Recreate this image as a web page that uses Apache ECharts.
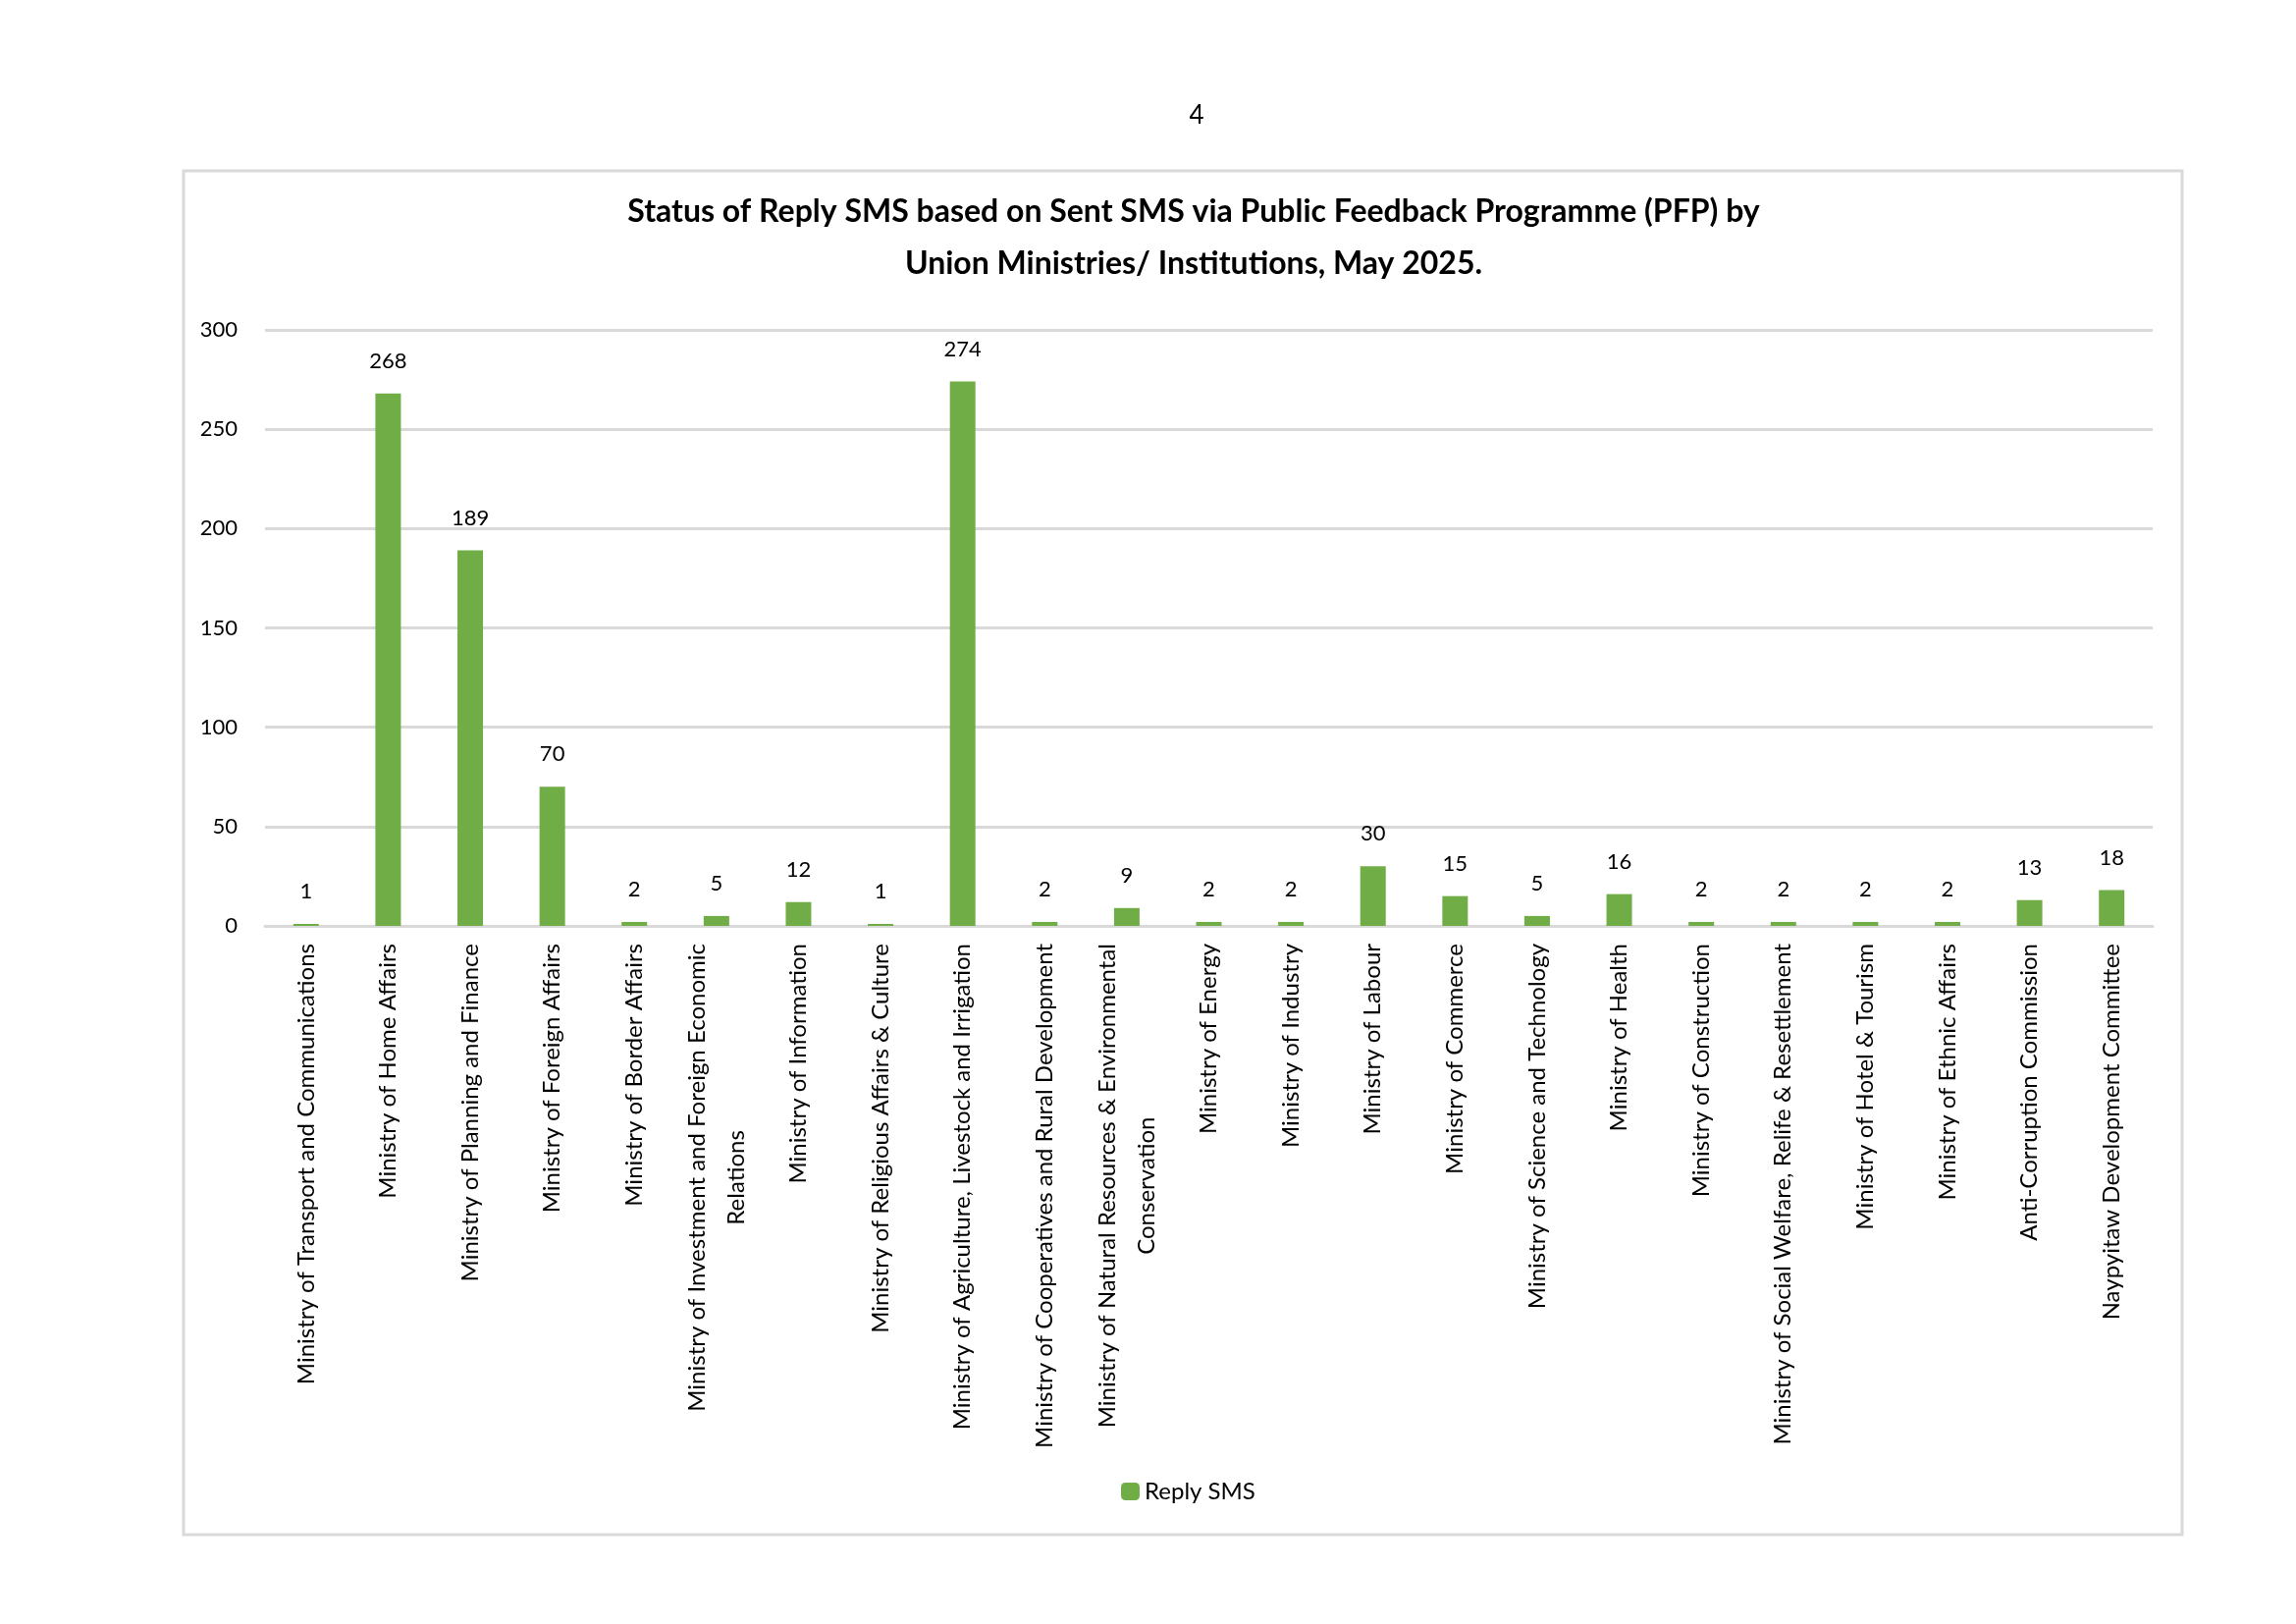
<!DOCTYPE html>
<html>
<head>
<meta charset="utf-8">
<script src="https://cdn.jsdelivr.net/npm/echarts@6/dist/echarts.min.js"></script>
<style>
  html, body { margin: 0; padding: 0; background: #fff; }
  #chart { width: 2339px; height: 1654px; }
</style>
</head>
<body>
<div id="chart"></div>
<script>
// categories (ministries / institutions)
var categories = [
  'Ministry of Transport and Communications',
  'Ministry of Home Affairs',
  'Ministry of Planning and Finance',
  'Ministry of Foreign Affairs',
  'Ministry of Border Affairs',
  'Ministry of Investment and Foreign Economic\nRelations',
  'Ministry of Information',
  'Ministry of Religious Affairs & Culture',
  'Ministry of Agriculture, Livestock and Irrigation',
  'Ministry of Cooperatives and Rural Development',
  'Ministry of Natural Resources & Environmental\nConservation',
  'Ministry of Energy',
  'Ministry of Industry',
  'Ministry of Labour',
  'Ministry of Commerce',
  'Ministry of Science and Technology',
  'Ministry of Health',
  'Ministry of Construction',
  'Ministry of Social Welfare, Relife & Resettlement',
  'Ministry of Hotel & Tourism',
  'Ministry of Ethnic Affairs',
  'Anti-Corruption Commission',
  'Naypyitaw Development Committee'
];

// Reply SMS counts
var replySms = [1, 268, 189, 70, 2, 5, 12, 1, 274, 2, 9, 2, 2, 30, 15, 5, 16, 2, 2, 2, 2, 13, 18];

var seriesName = 'Reply SMS';
var titleText = 'Status of Reply SMS based on Sent SMS via Public Feedback Programme (PFP) by\nUnion Ministries/ Institutions, May 2025.';
var pageNo = '4';

var fontName = 'Lato';

var option = {
  backgroundColor: '#ffffff',
  animation: false,
  textStyle: { fontFamily: fontName, color: '#000' },
  title: {
    text: titleText,
    left: 1211,
    top: 184,
    textAlign: 'center',
    textStyle: {
      fontFamily: fontName,
      fontSize: 32,
      fontWeight: 'bold',
      color: '#000',
      lineHeight: 53
    }
  },
  graphic: [
    {
      type: 'rect',
      shape: { x: 187, y: 174, width: 2036, height: 1389 },
      style: { fill: 'none', stroke: '#d9d9d9', lineWidth: 3 },
      silent: true
    },
    {
      type: 'text',
      x: 1219,
      y: 118,
      style: {
        text: pageNo, fontFamily: fontName, fontSize: 26, fill: '#000',
        align: 'center', verticalAlign: 'middle'
      }
    }
  ],
  legend: {
    data: [seriesName],
    left: 1137,
    top: 1502,
    itemWidth: 19,
    itemHeight: 18,
    itemGap: 8,
    textStyle: { fontFamily: fontName, fontSize: 24, color: '#000' }
  },
  grid: {
    left: 270,
    right: 146,
    top: 336,
    bottom: 711,
    containLabel: false
  },
  xAxis: {
    type: 'category',
    data: categories,
    axisTick: { show: false },
    axisLine: { lineStyle: { color: '#d9d9d9', width: 3 } },
    axisLabel: {
      interval: 0,
      rotate: 90,
      margin: 18,
      formatter: function (v) {
        return v.split('\n').map(function (s) { return '{c|' + s + '}'; }).join('\n');
      },
      rich: {
        c: {
          fontFamily: fontName,
          fontSize: 24,
          color: '#000',
          align: 'center',
          lineHeight: 40
        }
      }
    }
  },
  yAxis: {
    type: 'value',
    min: 0,
    max: 300,
    interval: 50,
    axisLine: { show: false },
    axisTick: { show: false },
    axisLabel: {
      margin: 28,
      fontFamily: fontName,
      fontSize: 22,
      color: '#000'
    },
    splitLine: { lineStyle: { color: '#d9d9d9', width: 3 } }
  },
  series: [
    {
      name: seriesName,
      type: 'bar',
      data: replySms,
      barWidth: 26,
      itemStyle: { color: '#70ad47' },
      label: {
        show: true,
        position: 'top',
        distance: 22,
        fontFamily: fontName,
        fontSize: 22,
        color: '#000'
      }
    }
  ]
};

var chart = echarts.init(document.getElementById('chart'));
chart.setOption(option);
</script>
</body>
</html>
